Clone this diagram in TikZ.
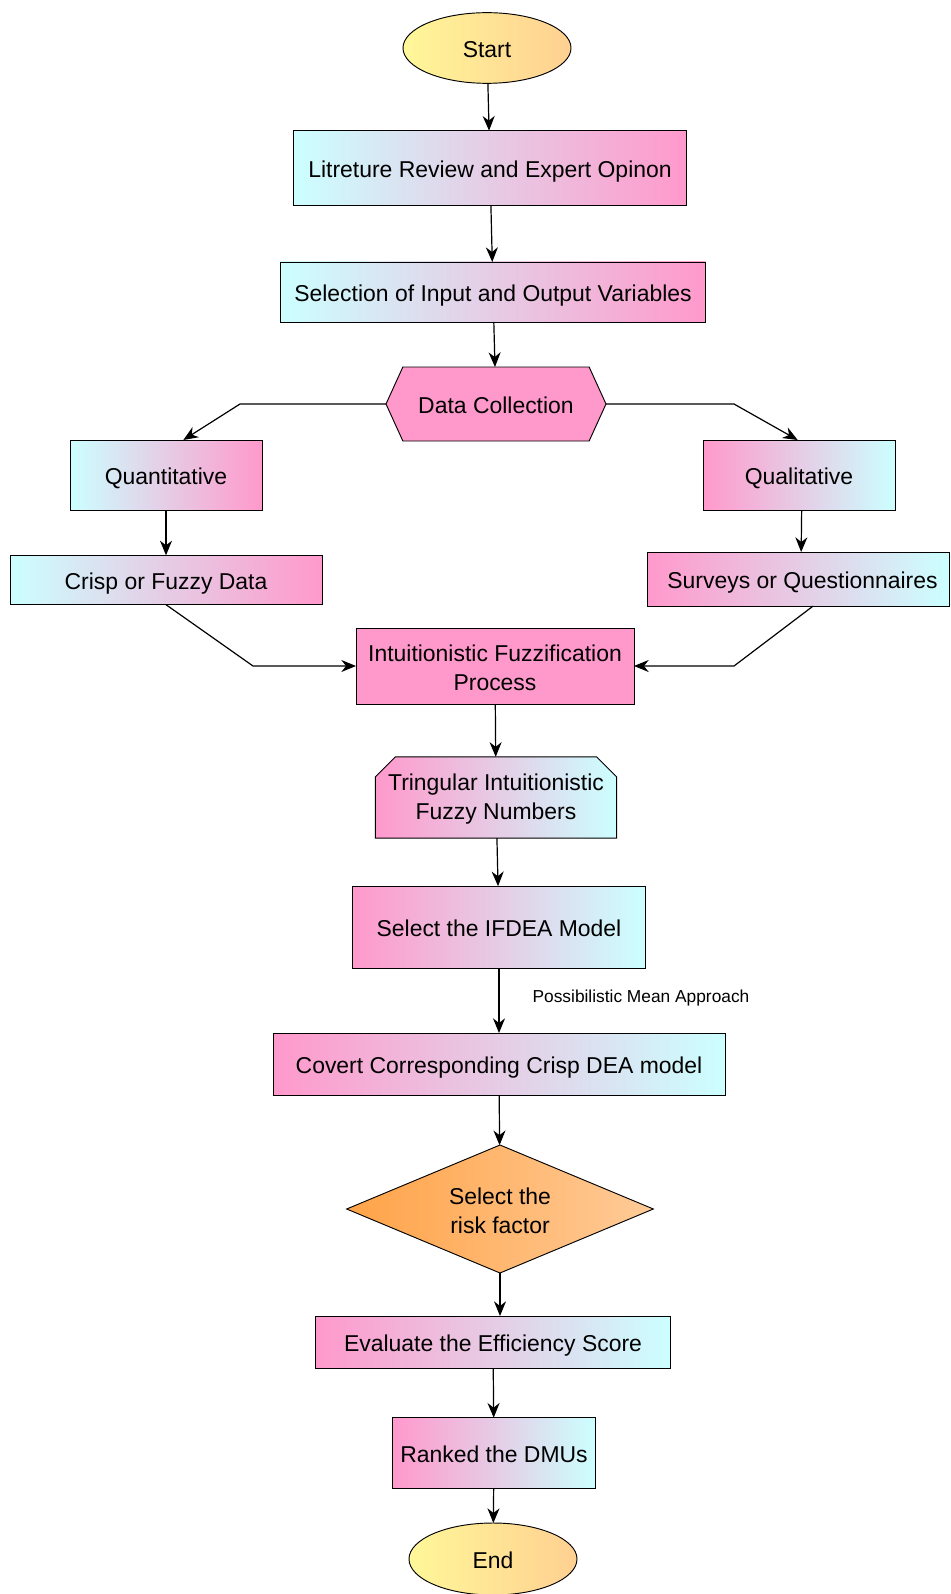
\documentclass[tikz,border=0pt]{standalone}
\usepackage{fontspec}
\setmainfont{Liberation Sans}
\usepackage{xcolor}
\usetikzlibrary{positioning,arrows.meta,calc,shapes.geometric,shapes.misc,shapes.symbols}
\definecolor{pinkF}{RGB}{255,153,204}
\definecolor{cyanF}{RGB}{204,255,255}
\definecolor{yelF}{RGB}{255,247,153}
\definecolor{peachF}{RGB}{255,208,145}
\definecolor{orngD}{RGB}{255,163,72}
\definecolor{orngL}{RGB}{255,203,152}

\begin{document}
\begin{tikzpicture}[x=0.75pt, y=-0.75pt,
  every node/.style={font=\fontsize{17.2}{21.4}\selectfont, outer sep=0pt},
  proc/.style={draw, line width=0.7pt, align=center, inner sep=2pt},
  one/.style={text height=16.3pt, text depth=2.6pt},
  cp/.style={proc, left color=cyanF, right color=pinkF},
  pc/.style={proc, left color=pinkF, right color=cyanF},
  term/.style={proc, one, ellipse, left color=yelF, right color=peachF},
  arr/.style={-{Stealth[length=11pt,width=9pt,inset=3.5pt]}, line width=0.9pt}]
  \useasboundingbox (0,0) rectangle (950,1594);
  \node[term, minimum width=126pt, minimum height=53pt] (start) at (487,48) {Start};
  \node[cp, one, minimum width=295pt, minimum height=56pt] (lit) at (490,168) {Litreture Review and Expert Opinon};
  \node[cp, one, minimum width=319pt, minimum height=45pt] (sel) at (493,292) {Selection of Input and Output Variables};
  \node[proc, one, signal, signal to=west and east, signal pointer angle=131, fill=pinkF,
        minimum width=165pt, minimum height=55.5pt] (data) at (496,404) {Data Collection};
  \node[cp, one, minimum width=144pt, minimum height=52.5pt] (quant) at (166,475) {Quantitative};
  \node[pc, one, minimum width=144pt, minimum height=52.5pt] (qual) at (799,475) {Qualitative};
  \node[cp, one, minimum width=234pt, minimum height=37pt] (crisp) at (166,580) {Crisp or Fuzzy Data};
  \node[pc, one, minimum width=226pt, minimum height=40.5pt] (surv) at (798.5,579) {\hspace*{6pt}Surveys or Questionnaires};
  \node[proc, fill=pinkF, minimum width=208.5pt, minimum height=57pt] (fuzz) at (495,666) {\rule{0pt}{15pt}Intuitionistic Fuzzification\\Process};
  \node[pc, chamfered rectangle, chamfered rectangle corners={north west,north east},
        chamfered rectangle xsep=7.5pt, chamfered rectangle ysep=7.5pt,
        minimum width=177pt, minimum height=61pt] (tifn) at (496,797.5) {\rule{0pt}{15pt}Tringular Intuitionistic\\Fuzzy Numbers};
  \node[pc, one, minimum width=220pt, minimum height=62pt] (ifdea) at (499,927.5) {Select the IFDEA Model};
  \node[font=\fontsize{13}{16}\selectfont] (pma) at (641,998) {Possibilistic Mean Approach};
  \node[proc, diamond, aspect=2.4, left color=orngD, right color=orngL,
        minimum width=230pt, minimum height=96pt] (risk) at (500,1209) {\rule{0pt}{15pt}Select the\\risk factor};
  \node[pc, one, minimum width=339pt, minimum height=46.5pt] (covert) at (499,1064) {Covert Corresponding Crisp DEA model};
  \node[pc, one, minimum width=266pt, minimum height=39pt] (eval) at (493,1342) {Evaluate the Efficiency Score};
  \node[pc, one, minimum width=152pt, minimum height=53pt] (rank) at (494,1453) {Ranked the DMUs};
  \node[term, minimum width=126pt, minimum height=54pt] (end) at (493,1559) {End};
  \draw[arr] (start) -- (lit);
  \draw[arr] (lit) -- (sel);
  \draw[arr] (sel) -- (data);
  \draw[arr] (data.west) -- ++(-146,0) -- ([xshift=13pt]quant.north);
  \draw[arr] (data.east) -- ++(128,0) -- ([xshift=-1pt]qual.north);
  \draw[arr] (quant) -- (crisp);
  \draw[arr] ([xshift=2pt]qual.south) -- ([xshift=2pt]surv.north);
  \draw[arr] (crisp.south) -- ($(fuzz.west)+(-103,0)$) -- (fuzz.west);
  \draw[arr] ([xshift=11pt]surv.south) -- ($(fuzz.east)+(100,0)$) -- (fuzz.east);
  \draw[arr] (fuzz) -- (tifn);
  \draw[arr] (tifn) -- (ifdea);
  \draw[arr] (ifdea) -- (covert);
  \draw[arr] (covert) -- (risk);
  \draw[arr] (risk.south) -- (risk.south |- eval.north);
  \draw[arr] (eval) -- (rank);
  \draw[arr] (rank) -- (end);
\end{tikzpicture}
\end{document}
